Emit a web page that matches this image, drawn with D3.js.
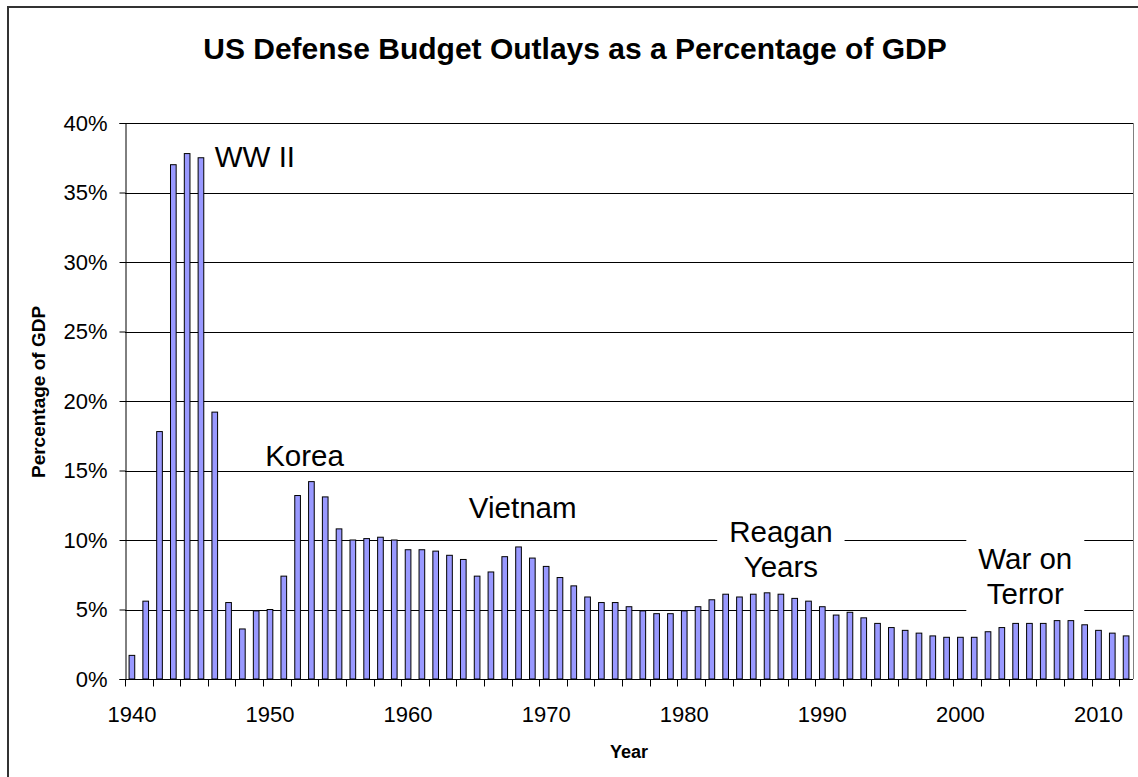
<!DOCTYPE html>
<html>
<head>
<meta charset="utf-8">
<script src="https://d3js.org/d3.v7.min.js"></script>
<style>
  body { margin: 0; background: #fff; }
  svg { display: block; font-family: "Liberation Sans", Arial, sans-serif; }
</style>
</head>
<body>
<svg id="chart" width="1138" height="777"></svg>
<script>
// years on the x axis
var years = [1940, 1941, 1942, 1943, 1944, 1945, 1946, 1947, 1948, 1949,
  1950, 1951, 1952, 1953, 1954, 1955, 1956, 1957, 1958, 1959,
  1960, 1961, 1962, 1963, 1964, 1965, 1966, 1967, 1968, 1969,
  1970, 1971, 1972, 1973, 1974, 1975, 1976, 1977, 1978, 1979,
  1980, 1981, 1982, 1983, 1984, 1985, 1986, 1987, 1988, 1989,
  1990, 1991, 1992, 1993, 1994, 1995, 1996, 1997, 1998, 1999,
  2000, 2001, 2002, 2003, 2004, 2005, 2006, 2007, 2008, 2009,
  2010, 2011, 2012];

// outlays, percent of GDP
var outlays = [1.7, 5.6, 17.8, 37.0, 37.8, 37.5, 19.2, 5.5, 3.6, 4.9,
  5.0, 7.4, 13.2, 14.2, 13.1, 10.8, 10.0, 10.1, 10.2, 10.0,
  9.3, 9.3, 9.2, 8.9, 8.6, 7.4, 7.7, 8.8, 9.5, 8.7,
  8.1, 7.3, 6.7, 5.9, 5.5, 5.5, 5.2, 4.9, 4.7, 4.7,
  4.9, 5.2, 5.7, 6.1, 5.9, 6.1, 6.2, 6.1, 5.8, 5.6,
  5.2, 4.6, 4.8, 4.4, 4.0, 3.7, 3.5, 3.3, 3.1, 3.0,
  3.0, 3.0, 3.4, 3.7, 4.0, 4.0, 4.0, 4.2, 4.2, 3.9,
  3.5, 3.3, 3.1];

var yTicks = [0, 5, 10, 15, 20, 25, 30, 35, 40];
var xLabelYears = [1940, 1950, 1960, 1970, 1980, 1990, 2000, 2010];

var titleText = "US Defense Budget Outlays as a Percentage of GDP";
var yTitle = "Percentage of GDP";
var xTitle = "Year";

// annotation text, anchored at (year, percent) of its first baseline
var notes = [
  { lines: ["WW II"], year: 1946, pct: 36.8, anchor: "start", box: false },
  { lines: ["Korea"], year: 1952.5, pct: 15.3, anchor: "middle", box: false },
  { lines: ["Vietnam"], year: 1968.3, pct: 11.6, anchor: "middle", box: false },
  { lines: ["Reagan", "Years"], year: 1987, pct: 9.85, anchor: "middle", box: true },
  { lines: ["War on", "Terror"], year: 2004.7, pct: 7.9, anchor: "middle", box: true }
];

var svg = d3.select("#chart");
var margin = {top: 123, right: 5, bottom: 98, left: 125};
var width = 1138 - margin.left - margin.right,
    height = 777 - margin.top - margin.bottom;

// outer chart border
svg.append("rect")
  .attr("x", 8).attr("y", 7)
  .attr("width", 1160).attr("height", 800)
  .attr("fill", "none")
  .attr("stroke", "#333")
  .attr("stroke-width", 2);

var g = svg.append("g")
  .attr("transform", "translate(" + margin.left + "," + margin.top + ")");

var x = d3.scaleBand().domain(years).range([0, width]).padding(0);
var y = d3.scaleLinear().domain([0, 40]).range([height, 0]);
var step = x.step();
var barW = step * 0.41;

// year as a fractional position
function xPos(yr) {
  return x(years[0]) + (yr - years[0] + 0.5) * step;
}

// gridlines
g.selectAll(".grid")
  .data(yTicks.filter(function(d) { return d > 0; }))
  .enter().append("line")
  .attr("class", "grid")
  .attr("x1", 0).attr("x2", width)
  .attr("y1", function(d) { return Math.round(y(d)) + 0.5; })
  .attr("y2", function(d) { return Math.round(y(d)) + 0.5; })
  .attr("stroke", "#000")
  .attr("stroke-width", 1);

// right edge of the plot area
g.append("line")
  .attr("x1", width + 0.5).attr("x2", width + 0.5)
  .attr("y1", 0).attr("y2", height)
  .attr("stroke", "#808080");

// bars
g.selectAll(".bar")
  .data(outlays)
  .enter().append("rect")
  .attr("class", "bar")
  .attr("x", function(d, i) { return x(years[i]) + (step - barW) / 2; })
  .attr("y", function(d) { return y(d); })
  .attr("width", barW)
  .attr("height", function(d) { return height - y(d); })
  .attr("fill", "#9999ff")
  .attr("stroke", "#000")
  .attr("stroke-width", 1);

// y axis
var yAxis = g.append("g")
  .attr("transform", "translate(0.5,0)")
  .call(d3.axisLeft(y).tickValues(yTicks).tickSize(6).tickPadding(12)
    .tickFormat(function(d) { return d + "%"; }));
yAxis.select(".domain").attr("stroke", "#000");
yAxis.selectAll("text")
  .attr("font-size", 22)
  .attr("font-family", "Liberation Sans, Arial, sans-serif")
  .attr("fill", "#000");

// x axis: ticks between every second category, labels every ten years
var xAxis = g.append("g")
  .attr("transform", "translate(0," + (Math.round(height) + 0.5) + ")");
xAxis.append("line")
  .attr("x1", 0).attr("x2", width)
  .attr("stroke", "#000");
xAxis.selectAll(".xtick")
  .data(years.filter(function(d, i) { return i % 2 === 0; }))
  .enter().append("line")
  .attr("class", "xtick")
  .attr("x1", function(d) { return Math.round(x(d)) + 0.5; })
  .attr("x2", function(d) { return Math.round(x(d)) + 0.5; })
  .attr("y1", 0).attr("y2", 7)
  .attr("stroke", "#000");
xAxis.selectAll(".xlabel")
  .data(xLabelYears)
  .enter().append("text")
  .attr("class", "xlabel")
  .attr("x", function(d) { return x(d) + step / 2; })
  .attr("y", 42)
  .attr("text-anchor", "middle")
  .attr("font-size", 22)
  .text(function(d) { return d; });

// annotations
notes.forEach(function(n) {
  var t = g.append("text")
    .attr("text-anchor", n.anchor)
    .attr("font-size", 29.5)
    .attr("fill", "#000");
  n.lines.forEach(function(line, i) {
    t.append("tspan")
      .attr("x", xPos(n.year))
      .attr("y", y(n.pct) + i * 35)
      .text(line);
  });
  if (n.box) {
    var bb = t.node().getBBox();
    g.insert("rect", function() { return t.node(); })
      .attr("x", bb.x - 12).attr("y", bb.y - 6)
      .attr("width", bb.width + 24).attr("height", bb.height + 14)
      .attr("fill", "#fff");
  }
});

// titles
svg.append("text")
  .attr("x", 575).attr("y", 59)
  .attr("text-anchor", "middle")
  .attr("font-size", 30)
  .attr("font-weight", "bold")
  .text(titleText);

svg.append("text")
  .attr("transform", "translate(45,392) rotate(-90)")
  .attr("text-anchor", "middle")
  .attr("font-size", 19)
  .attr("font-weight", "bold")
  .text(yTitle);

svg.append("text")
  .attr("x", margin.left + width / 2).attr("y", 758)
  .attr("text-anchor", "middle")
  .attr("font-size", 18)
  .attr("font-weight", "bold")
  .text(xTitle);
</script>
</body>
</html>
